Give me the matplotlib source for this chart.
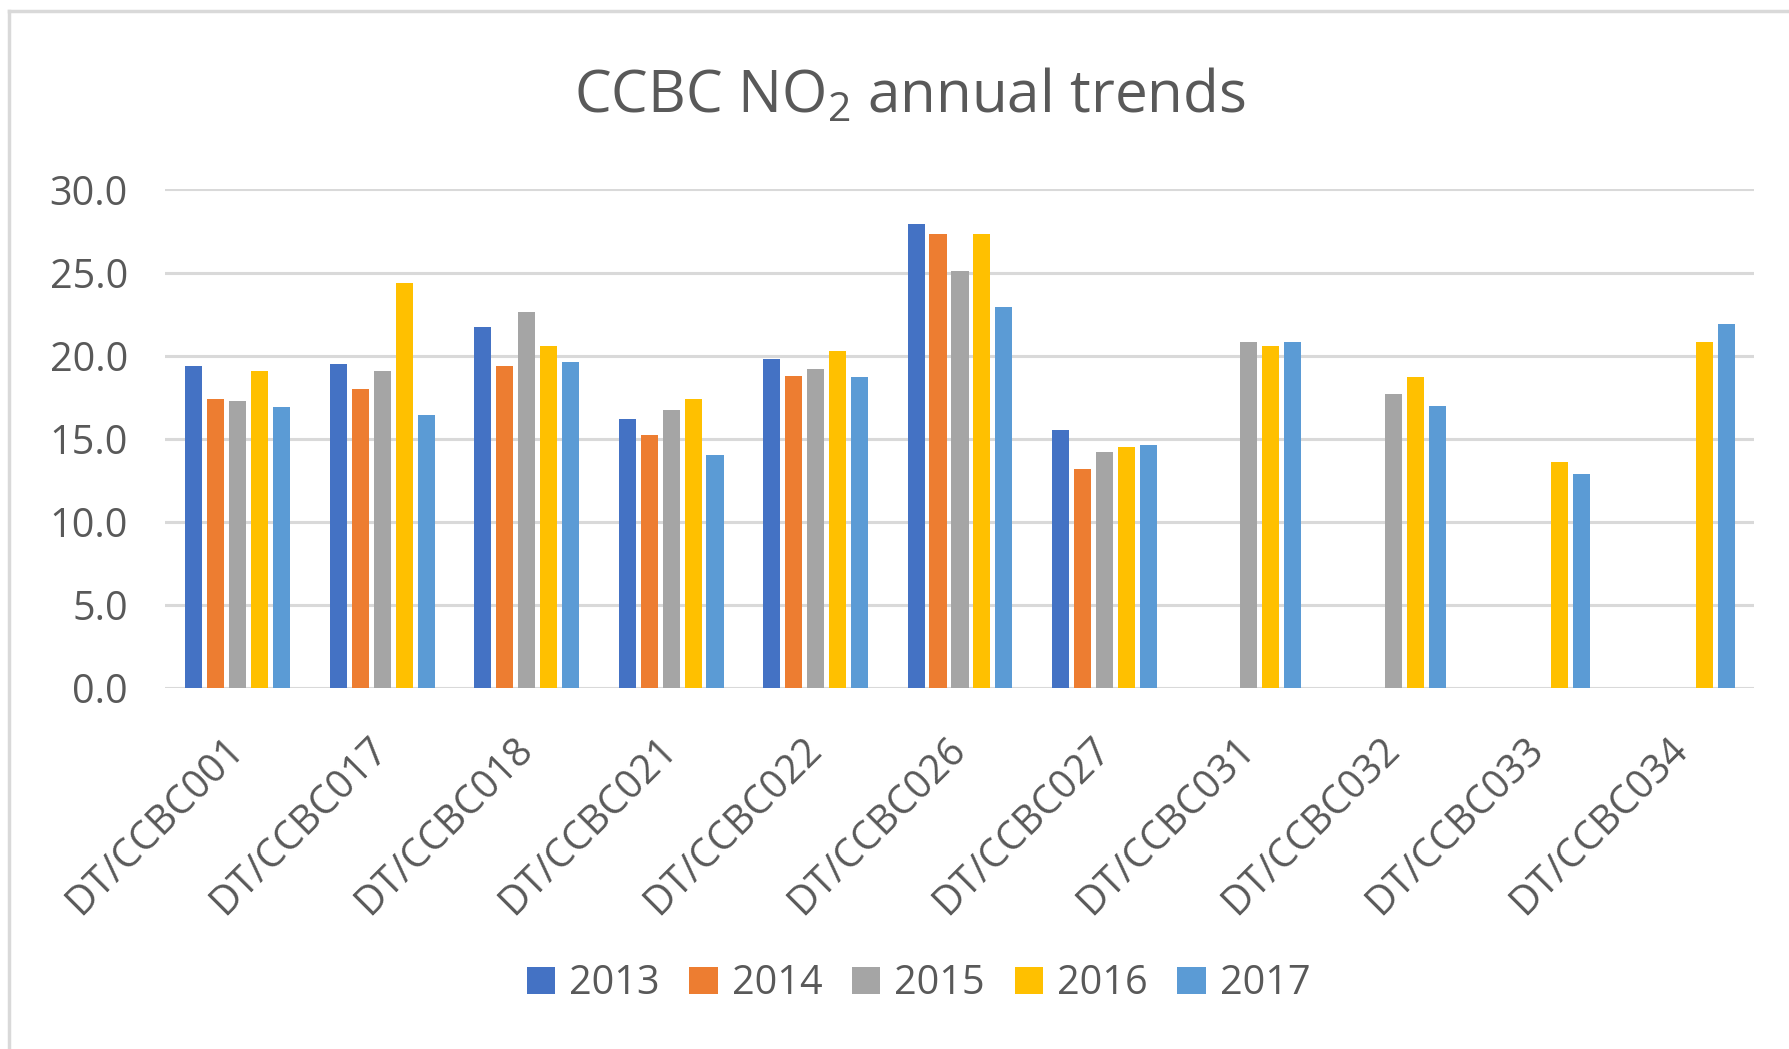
import numpy as np
import matplotlib
matplotlib.use("Agg")
import matplotlib.pyplot as plt
from matplotlib.lines import Line2D

plt.rcParams['font.family'] = ['Open Sans', 'DejaVu Sans']
plt.rcParams['mathtext.default'] = 'regular'

sites = ["DT/CCBC001", "DT/CCBC017", "DT/CCBC018", "DT/CCBC021", "DT/CCBC022",
         "DT/CCBC026", "DT/CCBC027", "DT/CCBC031", "DT/CCBC032", "DT/CCBC033",
         "DT/CCBC034"]
years = ["2013", "2014", "2015", "2016", "2017"]
nan = np.nan
no2_2013 = [19.4, 19.5, 21.7, 16.2, 19.8, 27.9, 15.5, nan, nan, nan, nan]
no2_2014 = [17.4, 18.0, 19.4, 15.2, 18.8, 27.3, 13.2, nan, nan, nan, nan]
no2_2015 = [17.3, 19.1, 22.6, 16.7, 19.2, 25.1, 14.2, 20.8, 17.7, nan, nan]
no2_2016 = [19.1, 24.4, 20.6, 17.4, 20.3, 27.3, 14.5, 20.6, 18.7, 13.6, 20.8]
no2_2017 = [16.9, 16.4, 19.6, 14.0, 18.7, 22.9, 14.6, 20.8, 17.0, 12.9, 21.9]
colors = ["#4472C4", "#ED7D31", "#A5A5A5", "#FFC000", "#5B9BD5"]

series = [no2_2013, no2_2014, no2_2015, no2_2016, no2_2017]
text_col = "#595959"
grid_col = "#D9D9D9"

fig = plt.figure(figsize=(17.89, 10.49), dpi=100)
ax = fig.add_axes([0.0925, 0.3441, 0.8882, 0.4753])

x = np.arange(len(sites))
step = 0.152
width = 0.118
for i, (vals, yr, c) in enumerate(zip(series, years, colors)):
    ax.bar(x + (i - 2) * step, vals, width, color=c, label=yr, zorder=3)

ax.set_xlim(-0.5, len(sites) - 0.5)
ax.set_ylim(0, 30)
ax.set_yticks(np.arange(0, 31, 5))
ax.set_yticklabels([f"{v:.1f}" for v in np.arange(0, 31, 5)])
ax.yaxis.grid(True, color=grid_col, linewidth=2.2, zorder=0)
ax.set_axisbelow(True)
for s in ax.spines.values():
    s.set_visible(False)
ax.tick_params(axis='both', length=0, colors=text_col, labelsize=28.5)
ax.tick_params(axis='y', pad=27)
ax.tick_params(axis='x', pad=40)

ax.set_xticks(x)
ax.set_xticklabels(sites, rotation=45, ha='right', va='center',
                   rotation_mode='anchor')

fig.text(0.5087, 0.8923, "CCBC NO$_2$ annual trends", ha='center',
         va='baseline', fontsize=42, color=text_col)

fig.legend(loc='center', bbox_to_anchor=(0.5134, 0.062), ncol=5,
           frameon=False, fontsize=28.5, labelcolor=text_col,
           handlelength=0.72, handleheight=0.68, handletextpad=0.35,
           columnspacing=0.75, borderpad=0)

# chart frame (top and left edges visible)
fig.add_artist(Line2D([9 / 1789, 1], [1 - 11 / 1049, 1 - 11 / 1049],
                      transform=fig.transFigure, color=grid_col, linewidth=2.5))
fig.add_artist(Line2D([9 / 1789, 9 / 1789], [0, 1 - 11 / 1049],
                      transform=fig.transFigure, color=grid_col, linewidth=2.5))

fig.savefig("out.png", dpi=100, facecolor="white")
